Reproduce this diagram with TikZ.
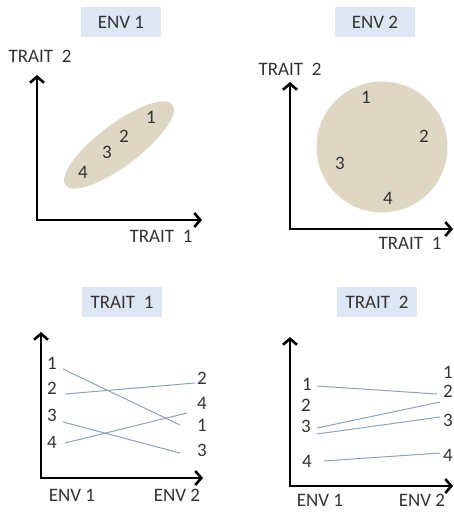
\documentclass[tikz,border=0pt]{standalone}
\usepackage{fontspec}
\setmainfont{Carlito}
\usetikzlibrary{arrows.meta, positioning, shapes.geometric}
\definecolor{envblue}{HTML}{DDE7F3}
\definecolor{cloudtan}{HTML}{DDD7C3}
\definecolor{normline}{HTML}{8DA0C2}
\definecolor{inkgray}{HTML}{333333}

\begin{document}
\begin{tikzpicture}[x=1pt, y=-1pt,
    tag/.style={fill=envblue, minimum width=80pt, minimum height=30pt, text=inkgray,
                font=\fontsize{19}{19}\selectfont},
    lbl/.style={text=inkgray, inner sep=0pt, font=\fontsize{19}{19}\selectfont},
    axis/.style={line width=2.6pt, line join=miter, color=black,
                 {Straight Barb[length=6pt,width=14pt]}-{Straight Barb[length=6pt,width=14pt]}},
    norm/.style={normline, line width=1pt}
]
\useasboundingbox (0,0) rectangle (454,512);

% ENV 1 : traits correlated
\node[tag] (env1) at (121,22) {ENV 1};
\node[ellipse, fill=cloudtan, minimum width=134pt, minimum height=42pt, rotate=37] (cloud1) at (119,145) {};
\coordinate (ay1) at (37,75);
\coordinate (o1)  at (37,220);
\coordinate (ax1) at (202,220);
\draw[axis] (ay1) -- (o1) -- (ax1);
\node[lbl] (t2a) at (40,56)   {TRAIT\ \ 2};
\node[lbl] (t1a) at (161,236) {TRAIT\ \ 1};
\node[lbl] (e1n1) at (151,117) {1};
\node[lbl] (e1n2) at (124,136) {2};
\node[lbl] (e1n3) at (107,152) {3};
\node[lbl] (e1n4) at (83,172)  {4};

% ENV 2 : traits uncorrelated
\node[tag] (env2) at (375,22) {ENV 2};
\node[circle, fill=cloudtan, minimum size=131pt] (cloud2) at (382,147) {};
\coordinate (ay2) at (290,82);
\coordinate (o2)  at (290,229);
\coordinate (ax2) at (453,229);
\draw[axis] (ay2) -- (o2) -- (ax2);
\node[lbl] (t2b) at (290,69)  {TRAIT\ \ 2};
\node[lbl] (t1b) at (410,243) {TRAIT\ \ 1};
\node[lbl] (e2n1) at (366,97)  {1};
\node[lbl] (e2n2) at (424,136) {2};
\node[lbl] (e2n3) at (340,163) {3};
\node[lbl] (e2n4) at (388,198) {4};

% TRAIT 1 : reaction norms
\node[tag] (trait1) at (122,302) {TRAIT\ \ 1};
\coordinate (ay3) at (41,332);
\coordinate (o3)  at (41,478);
\coordinate (ax3) at (203,478);
\draw[axis] (ay3) -- (o3) -- (ax3);
\node[lbl] (ea) at (72,495)  {ENV 1};
\node[lbl] (eb) at (177,495) {ENV 2};
\node[lbl] (a1) at (52,363) {1};
\node[lbl] (a2) at (52,388) {2};
\node[lbl] (a3) at (52,415) {3};
\node[lbl] (a4) at (52,442) {4};
\node[lbl] (b2) at (202,378) {2};
\node[lbl] (b4) at (202,403) {4};
\node[lbl] (b1) at (202,425) {1};
\node[lbl] (b3) at (202,450) {3};
\coordinate (a1s) at (63,369);  \coordinate (b1s) at (180,425);
\coordinate (a2s) at (65,394);  \coordinate (b2s) at (195,383);
\coordinate (a3s) at (63,422);  \coordinate (b3s) at (180,453);
\coordinate (a4s) at (65,443);  \coordinate (b4s) at (187,413);
\draw[norm] (a1s) -- (b1s);
\draw[norm] (a2s) -- (b2s);
\draw[norm] (a3s) -- (b3s);
\draw[norm] (a4s) -- (b4s);

% TRAIT 2 : reaction norms
\node[tag] (trait2) at (377,302) {TRAIT\ \ 2};
\coordinate (ay4) at (290,337);
\coordinate (o4)  at (290,486);
\coordinate (ax4) at (453,486);
\draw[axis] (ay4) -- (o4) -- (ax4);
\node[lbl] (ec) at (320,500) {ENV 1};
\node[lbl] (ed) at (422,500) {ENV 2};
\node[lbl] (c1) at (307,384) {1};
\node[lbl] (c2) at (306,405) {2};
\node[lbl] (c3) at (306,426) {3};
\node[lbl] (c4) at (307,461) {4};
\node[lbl] (d1) at (448,372) {1};
\node[lbl] (d2) at (448,391) {2};
\node[lbl] (d3) at (448,420) {3};
\node[lbl] (d4) at (448,455) {4};
\coordinate (c1s) at (317,386); \coordinate (d1s) at (437,394);
\coordinate (c2s) at (317,428); \coordinate (d2s) at (440,402);
\coordinate (c3s) at (317,434); \coordinate (d3s) at (440,417);
\coordinate (c4s) at (324,461); \coordinate (d4s) at (440,453);
\draw[norm] (c1s) -- (d1s);
\draw[norm] (c2s) -- (d2s);
\draw[norm] (c3s) -- (d3s);
\draw[norm] (c4s) -- (d4s);
\end{tikzpicture}
\end{document}
